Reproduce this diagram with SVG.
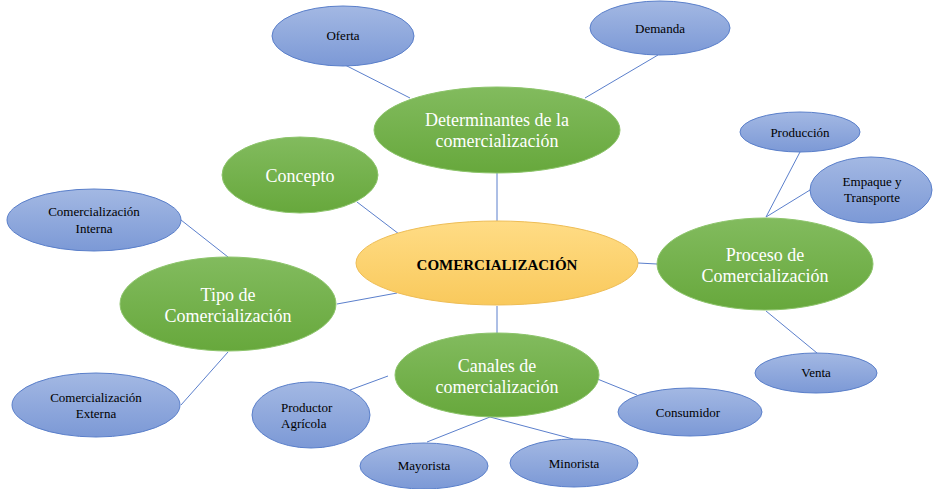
<svg xmlns="http://www.w3.org/2000/svg" width="942" height="489" viewBox="0 0 942 489">
<defs>
<linearGradient id="gG" x1="0" y1="0" x2="0" y2="1"><stop offset="0" stop-color="#82bb5e"/><stop offset="1" stop-color="#67a83c"/></linearGradient>
<linearGradient id="gB" x1="0" y1="0" x2="0" y2="1"><stop offset="0" stop-color="#a3b8e3"/><stop offset="1" stop-color="#7c99d6"/></linearGradient>
<linearGradient id="gY" x1="0" y1="0" x2="0" y2="1"><stop offset="0" stop-color="#ffdc85"/><stop offset="1" stop-color="#f9c95c"/></linearGradient>
</defs>
<style>
.g{fill:url(#gG);stroke:#8cc46a;stroke-width:1}
.b{fill:url(#gB);stroke:#5a7fca;stroke-width:1}
.y{fill:url(#gY);stroke:#eebd55;stroke-width:1}
.tg{font-family:"Liberation Serif","Times New Roman",serif;font-size:18px;fill:#ffffff;text-anchor:middle}
.tb{font-family:"Liberation Serif","Times New Roman",serif;font-size:13px;fill:#000000;text-anchor:middle}
.tc{font-family:"Liberation Serif","Times New Roman",serif;font-size:15px;font-weight:bold;fill:#000000;text-anchor:middle}
.c line{stroke:#5b7fcc;stroke-width:1}
</style>
<rect width="942" height="489" fill="#ffffff"/>
<g class="c" id="connectors">
<line x1="345" y1="65" x2="410" y2="98"/>
<line x1="658" y1="55" x2="585" y2="98"/>
<line x1="497" y1="173" x2="497" y2="221"/>
<line x1="357" y1="202" x2="399" y2="234"/>
<line x1="337" y1="304" x2="397" y2="293"/>
<line x1="181" y1="220" x2="228" y2="257"/>
<line x1="181" y1="405" x2="228" y2="352"/>
<line x1="638" y1="263" x2="657" y2="264"/>
<line x1="766" y1="217" x2="800" y2="152"/>
<line x1="766" y1="217" x2="810" y2="190"/>
<line x1="766" y1="311" x2="817" y2="353"/>
<line x1="497" y1="306" x2="497" y2="333"/>
<line x1="388" y1="376" x2="350" y2="390"/>
<line x1="590" y1="376" x2="637" y2="395"/>
<line x1="490" y1="417" x2="427" y2="442"/>
<line x1="490" y1="417" x2="573" y2="439"/>
</g>
<g id="oferta"><ellipse class="b" cx="343" cy="36" rx="71" ry="30"/><text class="tb" x="343" y="40">Oferta</text></g>
<g id="demanda"><ellipse class="b" cx="660" cy="28" rx="70" ry="27"/><text class="tb" x="660" y="33">Demanda</text></g>
<g id="determinantes"><ellipse class="g" cx="497" cy="130" rx="123" ry="43"/><text class="tg" x="497" y="126">Determinantes de la</text><text class="tg" x="497" y="147">comercialización</text></g>
<g id="concepto"><ellipse class="g" cx="300" cy="175" rx="78" ry="38"/><text class="tg" x="300" y="182">Concepto</text></g>
<g id="centro"><ellipse class="y" cx="497" cy="263" rx="141" ry="42"/><text class="tc" x="497" y="270">COMERCIALIZACIÓN</text></g>
<g id="tipo"><ellipse class="g" cx="228" cy="304" rx="108" ry="47"/><text class="tg" x="228" y="301">Tipo de</text><text class="tg" x="228" y="322">Comercialización</text></g>
<g id="interna"><ellipse class="b" cx="94" cy="220" rx="87" ry="31"/><text class="tb" x="94" y="216">Comercialización</text><text class="tb" x="94" y="233">Interna</text></g>
<g id="externa"><ellipse class="b" cx="96" cy="405" rx="84" ry="32"/><text class="tb" x="96" y="402">Comercialización</text><text class="tb" x="96" y="418">Externa</text></g>
<g id="proceso"><ellipse class="g" cx="765" cy="264" rx="108" ry="46"/><text class="tg" x="765" y="261">Proceso de</text><text class="tg" x="765" y="282">Comercialización</text></g>
<g id="produccion"><ellipse class="b" cx="800" cy="132" rx="60" ry="20"/><text class="tb" x="800" y="137">Producción</text></g>
<g id="empaque"><ellipse class="b" cx="871" cy="190" rx="61" ry="33"/><text class="tb" x="872" y="186">Empaque y</text><text class="tb" x="872" y="202">Transporte</text></g>
<g id="venta"><ellipse class="b" cx="816" cy="373" rx="61" ry="20"/><text class="tb" x="816" y="377">Venta</text></g>
<g id="canales"><ellipse class="g" cx="497" cy="375" rx="102" ry="42"/><text class="tg" x="497" y="372">Canales de</text><text class="tg" x="497" y="393">comercialización</text></g>
<g id="productor"><ellipse class="b" cx="311" cy="415" rx="59" ry="33"/><text class="tb" x="281" y="412" style="text-anchor:start">Productor</text><text class="tb" x="281" y="428" style="text-anchor:start">Agrícola</text></g>
<g id="consumidor"><ellipse class="b" cx="690" cy="412" rx="72" ry="24"/><text class="tb" x="688" y="417">Consumidor</text></g>
<g id="mayorista"><ellipse class="b" cx="424" cy="466" rx="64" ry="23"/><text class="tb" x="424" y="470">Mayorista</text></g>
<g id="minorista"><ellipse class="b" cx="574" cy="463" rx="64" ry="24"/><text class="tb" x="574" y="468">Minorista</text></g>
</svg>
